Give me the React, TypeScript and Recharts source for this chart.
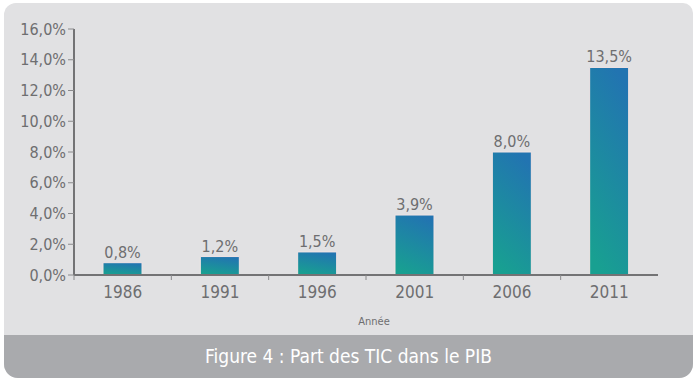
import React from "react";
import { BarChart, Bar, XAxis, YAxis, LabelList } from "recharts";

const years = ["1986", "1991", "1996", "2001", "2006", "2011"];
const shares = [0.8, 1.2, 1.5, 3.9, 8.0, 13.5];
const yTicks = [0, 2, 4, 6, 8, 10, 12, 14, 16];
const xLabel = "Année";
const caption = "Figure 4 : Part des TIC dans le PIB";

const data = years.map((y, i) => ({ year: y, value: shares[i] }));
const fmt = (v: number) => `${v.toFixed(1).replace(".", ",")}%`;
const FONT = "'Liberation Sans Narrow', 'DejaVu Sans Condensed', 'Open Sans', sans-serif";
const TXT = "#6e6e70";

const XTick = (props: any) => {
  const { x, y, payload } = props;
  const off = payload && payload.offset ? payload.offset : 48.7;
  return (
    <g>
      <line x1={x - off} y1={y - 8} x2={x - off} y2={y - 3} stroke="#8a8a8c" strokeWidth={1} />
      <text x={x} y={y + 15} textAnchor="middle" fill={TXT} fontSize={17} fontFamily={FONT}>
        {payload.value}
      </text>
    </g>
  );
};

export default function App() {
  return (
    <div style={{ position: "absolute", left: 0, top: 0, width: 700, height: 381, background: "#ffffff", overflow: "hidden" }}>
      <div
        style={{
          position: "absolute",
          left: 4,
          top: 3,
          width: 689,
          height: 375,
          background: "#e1e1e3",
          borderRadius: "12px 10px 14px 14px",
        }}
      />
      <div
        style={{
          position: "absolute",
          left: 4,
          top: 335,
          width: 689,
          height: 43,
          background: "#a9aaad",
          borderRadius: "0 0 14px 14px",
          color: "#ffffff",
          fontFamily: FONT,
          fontSize: 19,
          lineHeight: "43px",
          textAlign: "center",
        }}
      >
        {caption}
      </div>
      <div style={{ position: "absolute", left: 0, top: 0 }}>
        <BarChart width={700} height={381} data={data} margin={{ top: 29, right: 42, bottom: 76, left: 0 }} barCategoryGap={0}>
          <defs>
            <linearGradient id="barGrad" x1="0.65" y1="0" x2="0.35" y2="1">
              <stop offset="0%" stopColor="#2274b1" />
              <stop offset="100%" stopColor="#18a091" />
            </linearGradient>
          </defs>
          <XAxis
            dataKey="year"
            axisLine={{ stroke: "#737375", strokeWidth: 2 }}
            tickLine={false}
            tick={<XTick />}
            height={30}
            interval={0}
            label={{ value: xLabel, position: "insideBottom", offset: -20, dx: 8, fill: TXT, fontSize: 11, fontFamily: FONT }}
          />
          <YAxis
            domain={[0, 16]}
            ticks={yTicks}
            width={74}
            axisLine={{ stroke: "#737375", strokeWidth: 2 }}
            tickLine={{ stroke: "#8a8a8c" }}
            tickSize={6}
            tickFormatter={fmt}
            tick={{ fill: TXT, fontSize: 16, fontFamily: FONT }}
            interval={0}
          />
          <Bar dataKey="value" barSize={39} fill="url(#barGrad)" stroke="#f1e4e4" strokeWidth={1} isAnimationActive={false}>
            <LabelList dataKey="value" position="top" offset={5} formatter={(v: any) => fmt(Number(v))} fill={TXT} fontSize={16} fontFamily={FONT} />
          </Bar>
        </BarChart>
      </div>
    </div>
  );
}
